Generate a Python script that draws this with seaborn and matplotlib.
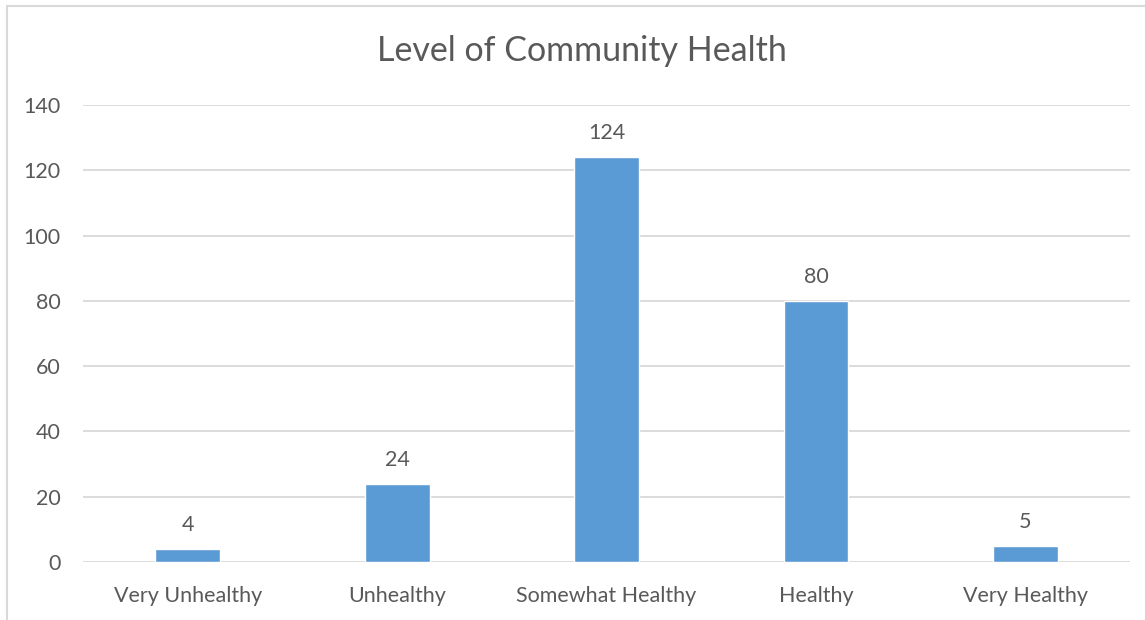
import matplotlib
matplotlib.use("Agg")
import matplotlib.pyplot as plt
import seaborn as sns
import pandas as pd
from matplotlib.patches import Rectangle

# Data
categories = ["Very Unhealthy", "Unhealthy", "Somewhat Healthy", "Healthy", "Very Healthy"]
counts = [4, 24, 124, 80, 5]
y_ticks = [0, 20, 40, 60, 80, 100, 120, 140]

df = pd.DataFrame({"Level": categories, "Count": counts})

sns.set_style("white")
plt.rcParams["font.family"] = ["Lato", "DejaVu Sans"]

text_color = "#595959"
grid_color = "#D9D9D9"
bar_color = "#5B9BD5"

fig = plt.figure(figsize=(11.45, 6.2), dpi=100)
ax = fig.add_axes([0.0725, 0.0935, 0.9145, 0.737])

sns.barplot(data=df, x="Level", y="Count", color=bar_color, width=0.31,
            saturation=1, ax=ax, zorder=3)

ax.set_ylim(0, 140)
ax.set_yticks(y_ticks)
ax.yaxis.grid(True, color=grid_color, linewidth=1.3, zorder=0)
ax.set_axisbelow(True)
for s in ["top", "right", "left", "bottom"]:
    ax.spines[s].set_visible(False)
ax.tick_params(axis="both", length=0, labelsize=15.5, colors=text_color)
ax.tick_params(axis="y", pad=16)
ax.tick_params(axis="x", pad=17)
ax.set_xlabel("")
ax.set_ylabel("")

# value labels above bars
ax.bar_label(ax.containers[0], labels=[str(v) for v in counts],
             padding=10, fontsize=15.5, color=text_color)

fig.text(0.508, 0.918, "Level of Community Health", ha="center", va="center",
         fontsize=24.5, color=text_color)

# light chart border like the spreadsheet frame
fig.patches.append(Rectangle((7 / 1145, -0.02), 1.05, 1.01,
                             transform=fig.transFigure, fill=False,
                             edgecolor=grid_color, linewidth=1.5))

fig.savefig("out.png", dpi=100, facecolor="white")
